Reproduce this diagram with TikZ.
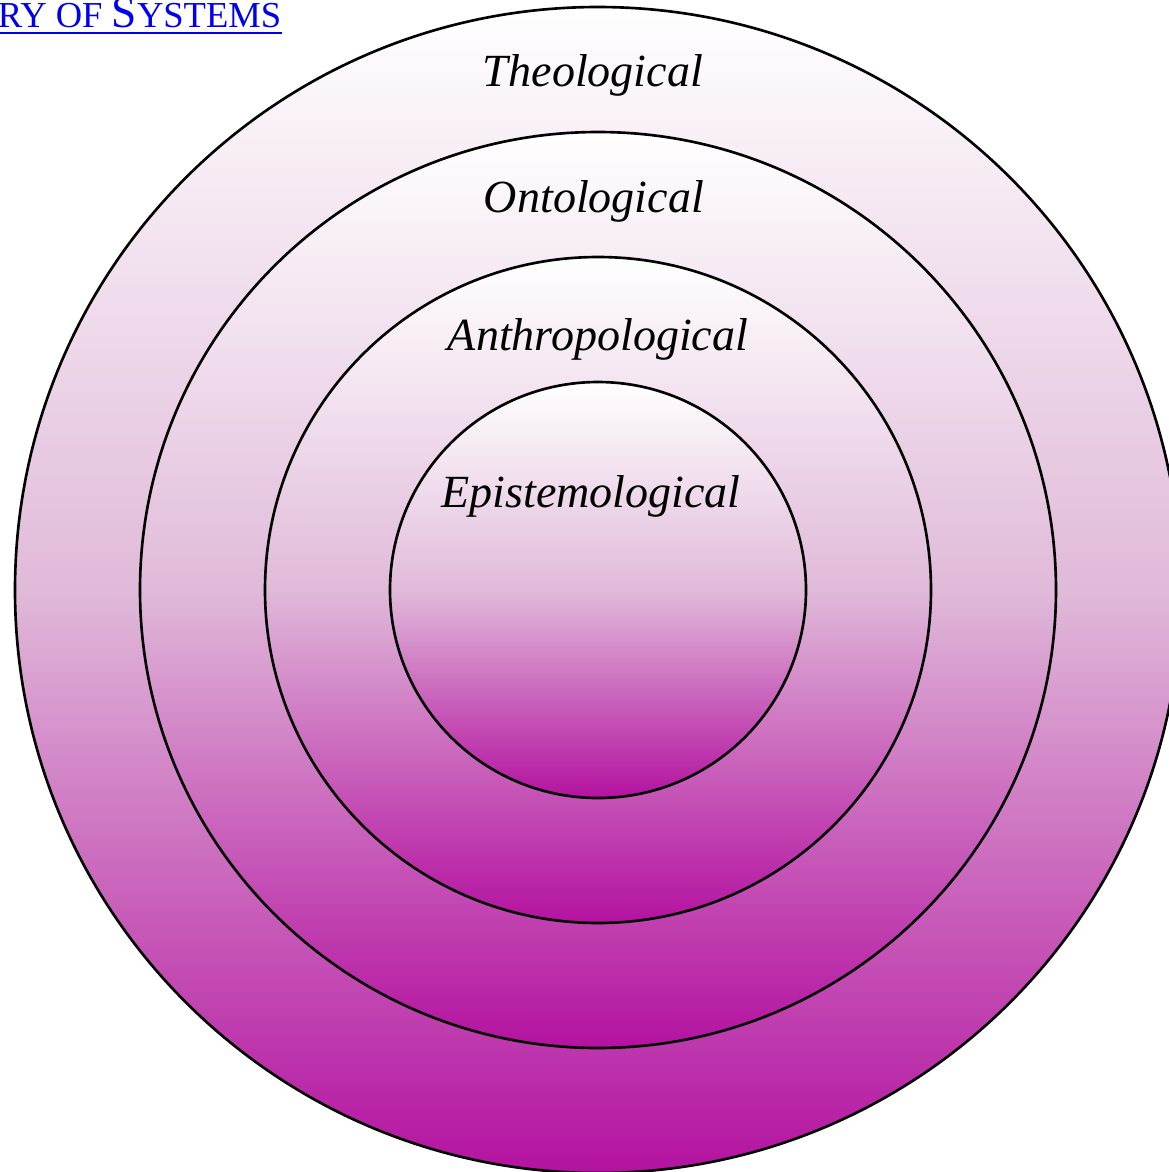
\documentclass[tikz,border=0pt]{standalone}
\usepackage{fontspec}
\setmainfont{Liberation Serif}
\usepackage{tikz}

\definecolor{ringmid}{RGB}{224,186,217}
\definecolor{ringlow}{RGB}{180,18,160}
\definecolor{linkblue}{RGB}{0,0,238}

\begin{document}
\begin{tikzpicture}[x=0.01cm, y=-0.01cm,
  ring/.style={draw=black, line width=0.75pt, top color=white, bottom color=ringlow, middle color=ringmid},
  level/.style={font=\fontsize{13.1}{15}\selectfont\itshape, anchor=base},
  link/.style={text=linkblue, anchor=base east, inner sep=0pt, font=\fontsize{10.4}{12}\selectfont}]

\useasboundingbox (0,0) rectangle (1169,1172);

\coordinate (centre) at (598,590);

% rings, outer to inner
\draw [ring] (centre) circle (583);
\draw [ring] (centre) circle (458);
\draw [ring] (centre) circle (333);
\draw [ring] (centre) circle (208);

% -------- labels -----------
\node [level] (theo)  at (593, 86)  {Theological};
\node [level] (onto)  at (594, 212) {Ontological};
\node [level] (anthro) at (598, 350) {Anthropological};
\node [level] (episte) at (591, 507) {Epistemological};

% link, cut at the left edge
\node [link] (syslink) at (282, 27) {RY OF {\fontsize{12.9}{14}\selectfont S}YSTEMS};
\draw [linkblue, line width=0.6pt] ([yshift=-1.8pt]syslink.base west) -- ([yshift=-1.8pt]syslink.base east);

\end{tikzpicture}
\end{document}
